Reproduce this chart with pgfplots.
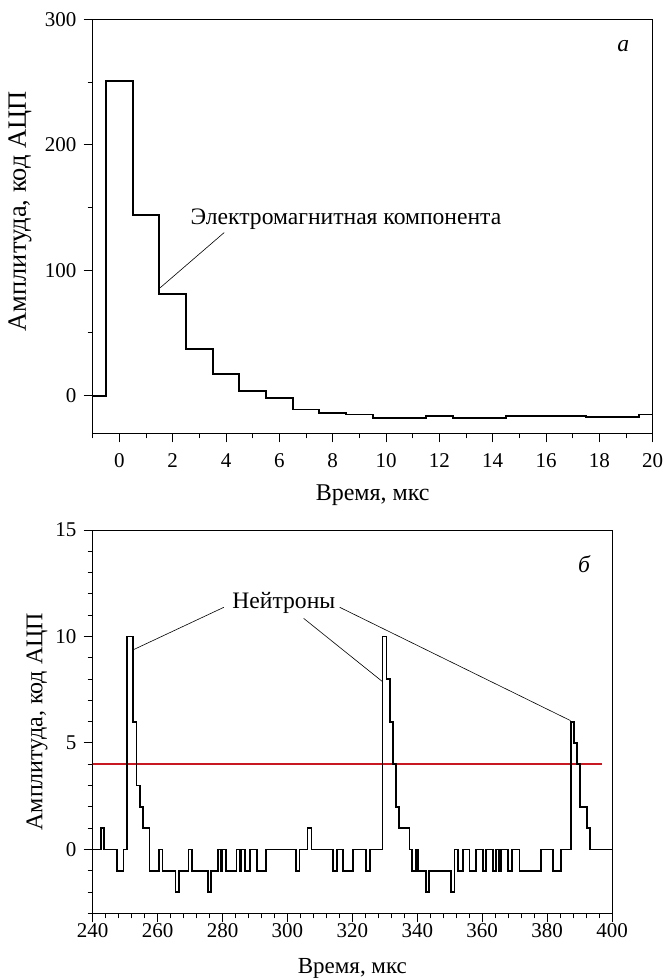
\documentclass[border=0pt]{standalone}
\usepackage{fontspec}
\setmainfont{Liberation Serif}
\usepackage{pgfplots}
\pgfplotsset{compat=1.18}
\definecolor{thr}{RGB}{200,25,35}
\begin{document}
\fontsize{10.5}{12}\selectfont
\begin{tikzpicture}
\path[use as bounding box] (0,0) rectangle (332pt,-489pt);
\pgfplotsset{
  every axis/.append style={
    scale only axis,
    axis line style={line width=0.5pt},
    tick align=outside, tick pos=left,
    major tick length=4.5pt, minor tick length=2.5pt,
    every tick/.style={black, line width=0.5pt},
    /pgf/number format/assume math mode=true,
    ticklabel style={font=\fontsize{10.5}{12}\selectfont},
    xlabel style={anchor=center},
    ylabel style={anchor=center},
  }
}
% panel a
\begin{axis}[at={(46.35pt,-216.65pt)}, anchor=south west,
  width=280pt, height=207pt,
  xmin=-1, xmax=20, ymin=-30, ymax=300,
  xtick={0,2,...,20}, minor xtick={-1,1,...,19},
  ytick={0,100,200,300}, minor ytick={50,150,250},
  xticklabel style={yshift=-2pt},
  xlabel={Время, мкс}, ylabel={Амплитуда, код АЦП},
  xlabel style={font=\fontsize{12}{14}\selectfont, at={(axis description cs:0.5,-0.149)}},
  ylabel style={font=\fontsize{13.2}{15}\selectfont, at={(axis description cs:-0.13,0.536)}}]
\addplot[const plot, line width=0.9pt, black] coordinates {
(-1,0) (-0.5,251) (0.5,144) (1.5,81) (2.5,37) (3.5,17) (4.5,4) (5.5,-2)
(6.5,-11) (7.5,-14) (8.5,-15) (9.5,-18) (11.5,-16) (12.5,-18) (14.5,-16.5)
(15.5,-16) (17.5,-17) (19.5,-15) (20,-15)};
\draw[line width=0.3pt] (axis cs:3.93,130) -- (axis cs:1.53,86);
\node[anchor=base west, inner sep=0pt, font=\fontsize{11.8}{14}\selectfont] at (axis cs:2.66,136.5) {Электромагнитная компонента};
\node[font=\fontsize{11.8}{14}\selectfont] at (axis cs:18.9,279) {\textit{а}};
\end{axis}
% panel b
\begin{axis}[at={(46.35pt,-456.65pt)}, anchor=south west,
  width=259.65pt, height=191.65pt,
  xmin=240, xmax=400, ymin=-3, ymax=15,
  xtick={240,260,...,400}, minor xtick={244,248,...,396},
  ytick={0,5,10,15}, minor ytick={-3,...,15},
  xticklabel style={yshift=3pt},
  xlabel={Время, мкс}, ylabel={Амплитуда, код АЦП},
  xlabel style={font=\fontsize{11.5}{13}\selectfont, at={(axis description cs:0.5,-0.145)}},
  ylabel style={font=\fontsize{12}{14}\selectfont, at={(axis description cs:-0.107,0.5)}}]
\addplot[thr, line width=0.8pt] coordinates {(240,4) (397,4)};
\addplot[const plot, line width=0.9pt, black] coordinates {
(240,0) (242.5,1) (243.5,0) (247.5,-1) (249.5,0) (250.5,10) (252.5,6)
(253.5,3) (254.5,2) (255.5,1) (257.5,-1) (260.5,0) (261.5,-1) (265.5,-2)
(266.5,-1) (269.5,0) (270.5,-1) (275.5,-2) (276.5,-1) (278.5,0) (279.5,-1)
(280,0) (281,-1) (284.3,0) (285.3,-1) (285.8,0) (286.9,-1) (288.4,0)
(290.5,-1) (293.5,0) (302.7,-1) (303.7,0) (306.2,1) (307.4,0) (314,-1)
(315.3,0) (317.2,-1) (320.3,0) (324.3,-1) (325.5,0) (329.3,10) (330.5,8)
(331.5,6) (332.5,4) (333.4,2) (334.4,1) (337.6,0) (338.4,-1) (339.5,0)
(340.3,-1) (342.6,-2) (343.6,-1) (350.5,-2) (351.5,0) (352.5,-1) (354,0)
(356.1,-1) (358.1,0) (360.2,-1) (361.2,0) (363.3,-1) (364.3,0) (365.1,-1)
(365.8,0) (367.9,-1) (369.2,0) (371.5,-1) (378.1,0) (381.7,-1) (384.3,0)
(387.4,6) (388.4,5) (389.2,4) (390.2,2) (392.4,1) (393.2,0) (400,0)};
\node[font=\fontsize{11.8}{14}\selectfont] at (axis cs:298.9,11.56) {Нейтроны};
\draw[line width=0.3pt] (axis cs:280.4,11.37) -- (axis cs:252.7,9.39);
\draw[line width=0.3pt] (axis cs:305.0,10.85) -- (axis cs:329.2,7.89);
\draw[line width=0.3pt] (axis cs:316.1,11.37) -- (axis cs:387.2,6.05);
\node[font=\fontsize{11.8}{14}\selectfont] at (axis cs:391.5,13.4) {\textit{б}};
\end{axis}
\end{tikzpicture}
\end{document}
